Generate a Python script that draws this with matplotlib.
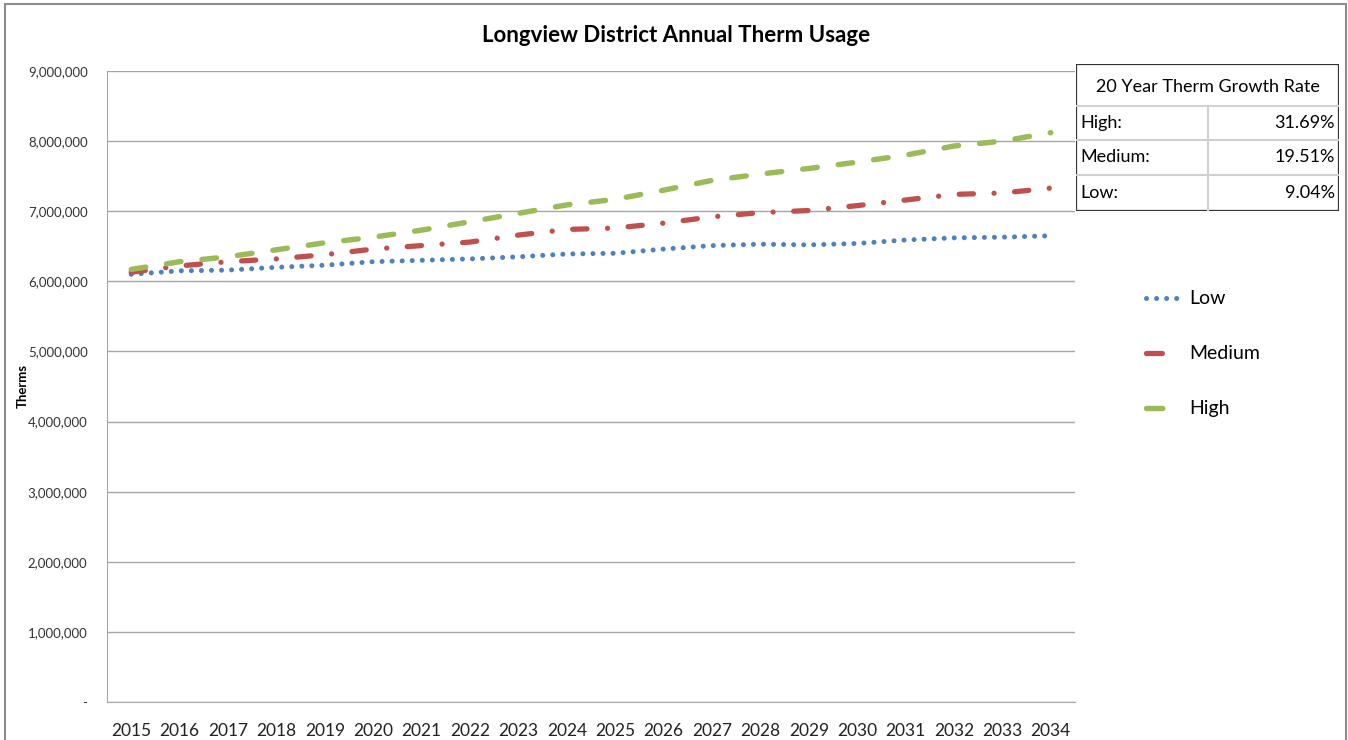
"""Longview District annual therm usage: low / medium / high growth scenarios."""
import matplotlib
matplotlib.use("Agg")
import matplotlib.pyplot as plt
from matplotlib.lines import Line2D
from matplotlib.patches import Rectangle
from matplotlib.ticker import FuncFormatter

years = list(range(2015, 2035))
low = [6.10, 6.15, 6.16, 6.20, 6.23, 6.28, 6.30, 6.32, 6.35, 6.39,
       6.40, 6.46, 6.51, 6.53, 6.52, 6.54, 6.59, 6.62, 6.63, 6.65]
medium = [6.13, 6.22, 6.28, 6.32, 6.38, 6.46, 6.51, 6.56, 6.66, 6.74,
          6.76, 6.83, 6.92, 6.98, 7.01, 7.08, 7.16, 7.24, 7.26, 7.33]
high = [6.17, 6.28, 6.35, 6.45, 6.55, 6.63, 6.73, 6.85, 6.97, 7.09,
        7.17, 7.30, 7.44, 7.53, 7.61, 7.70, 7.80, 7.93, 8.00, 8.12]

rate_labels = ["High:", "Medium:", "Low:"]
rate_values = ["31.69%", "19.51%", "9.04%"]

BLUE, RED, GREEN = "#4F81BD", "#C0504D", "#9BBB59"

plt.rcParams["font.family"] = ["Lato", "DejaVu Sans"]

fig = plt.figure(figsize=(13.48, 7.40), dpi=100)
fig.patches.append(Rectangle((5 / 1348, -0.01), 1341 / 1348, 1 - 4 / 740 + 0.01,
                             transform=fig.transFigure, fill=False,
                             edgecolor="#8c8c8c", linewidth=1.5))

ax = fig.add_axes([107 / 1348, 1 - 702 / 740, 968 / 1348, 631 / 740])
x = list(range(len(years)))
scale = 1e6
ax.plot(x, [v * scale for v in low], color=BLUE, lw=3.6,
        dashes=(0.01, 2.0), dash_capstyle="round", zorder=3)
ax.plot(x, [v * scale for v in medium], color=RED, lw=3.8,
        dashes=(2.7, 3.9, 0.01, 3.9), dash_capstyle="round", zorder=3)
ax.plot(x, [v * scale for v in high], color=GREEN, lw=3.9,
        dashes=(2.7, 3.9), dash_capstyle="round", zorder=3)

ax.set_xlim(-0.5, len(years) - 0.5)
ax.set_ylim(0, 9e6)
ax.set_yticks([i * 1e6 for i in range(10)])
ax.yaxis.set_major_formatter(FuncFormatter(lambda v, p: "-" if v == 0 else f"{int(v):,}"))
ax.set_xticks(x)
ax.set_xticklabels([str(y) for y in years], fontsize=12.5, color="#222222")
ax.tick_params(axis="x", length=0, pad=15)
ax.tick_params(axis="y", length=0, labelsize=9.5, labelcolor="#333333", pad=14)
ax.grid(axis="y", color="#a6a6a6", linewidth=1)
ax.set_axisbelow(True)
for side in ["top", "right"]:
    ax.spines[side].set_visible(False)
for side in ["left", "bottom"]:
    ax.spines[side].set_color("#a6a6a6")

fig.text(23 / 1348, 1 - 386 / 740, "Therms", rotation=90, ha="center", va="center",
         fontsize=9.5, fontweight="bold")
fig.text(676 / 1348, 1 - 35 / 740, "Longview District Annual Therm Usage",
         ha="center", va="center", fontsize=16, fontweight="bold")

handles = [
    Line2D([], [], color=BLUE, lw=3.6, dashes=(0.01, 2.0), dash_capstyle="round"),
    Line2D([], [], color=RED, lw=3.8, dashes=(3.0, 12), dash_capstyle="round"),
    Line2D([], [], color=GREEN, lw=3.9, dashes=(3.0, 12), dash_capstyle="round"),
]
fig.legend(handles, ["Low", "Medium", "High"], loc="upper left",
           bbox_to_anchor=(1128 / 1348, 1 - 273 / 740), frameon=False, fontsize=14,
           handlelength=1.8, labelspacing=1.95, handletextpad=0.45)

# growth-rate table
tx0, tx1, ty0, ty1 = 1076, 1339, 64, 211
tab = fig.add_axes([tx0 / 1348, 1 - ty1 / 740, (tx1 - tx0) / 1348, (ty1 - ty0) / 740])
tab.set_xlim(tx0, tx1)
tab.set_ylim(ty1, ty0)
tab.axis("off")
row_edges = [106, 140, 175]
split = 1208
for yy in row_edges:
    tab.plot([tx0, tx1], [yy, yy], color="#d0d0d0", lw=1.5)
tab.plot([split, split], [row_edges[0], ty1], color="#d0d0d0", lw=1.5)
tab.add_patch(Rectangle((tx0, ty0), tx1 - tx0, ty1 - ty0, fill=False,
                        edgecolor="#333333", lw=1.6))
tab.text((tx0 + tx1) / 2, (ty0 + row_edges[0]) / 2 + 2, "20 Year Therm Growth Rate",
         ha="center", va="center", fontsize=13)
bounds = row_edges + [ty1]
for i, (lab, val) in enumerate(zip(rate_labels, rate_values)):
    yc = (bounds[i] + bounds[i + 1]) / 2
    tab.text(tx0 + 4, yc, lab, ha="left", va="center", fontsize=13)
    tab.text(tx1 - 4, yc, val, ha="right", va="center", fontsize=13)

fig.savefig("out.png", dpi=100)
